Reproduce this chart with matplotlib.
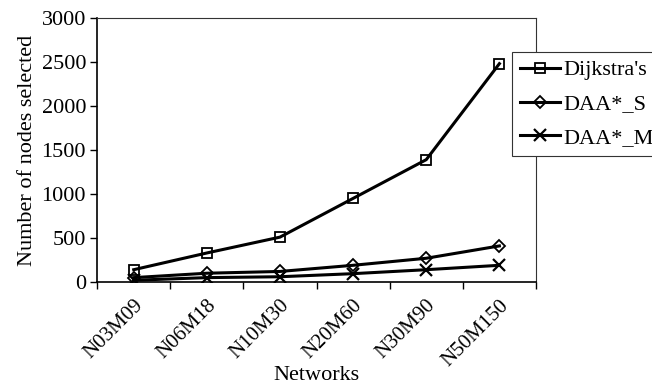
import numpy as np
import matplotlib
matplotlib.use("Agg")
import matplotlib.pyplot as plt
from matplotlib.ticker import FixedLocator, MultipleLocator

# data
networks = ["N03M09", "N06M18", "N10M30", "N20M60", "N30M90", "N50M150"]
dijkstra = [140, 330, 510, 950, 1390, 2480]
daa_s = [50, 100, 120, 190, 270, 410]
daa_m = [20, 50, 60, 95, 140, 190]

plt.rcParams['font.family'] = ['Liberation Serif', 'DejaVu Serif']
plt.rcParams['font.size'] = 16

fig = plt.figure(figsize=(6.52, 3.89), dpi=100)
ax = fig.add_axes([0.149, 0.275, 0.673, 0.679])

x = np.arange(len(networks))
lw = 2.2
ax.plot(x, dijkstra, color='black', lw=lw, marker='s', ms=7, mfc='none', mec='black', mew=1.3, label="Dijkstra's")
ax.plot(x, daa_s, color='black', lw=lw, marker='D', ms=6, mfc='none', mec='black', mew=1.3, label="DAA*_S")
ax.plot(x, daa_m, color='black', lw=lw, marker='x', ms=8, mec='black', mew=1.6, label="DAA*_M")

ax.set_xlim(-0.5, len(networks) - 0.5)
ax.set_ylim(0, 3000)
ax.yaxis.set_major_locator(MultipleLocator(500))

# category labels at centers, tick marks at boundaries (spreadsheet style)
ax.set_xticks(x)
ax.set_xticklabels(networks, rotation=45, ha='right', rotation_mode='anchor', fontsize=15)
ax.xaxis.set_minor_locator(FixedLocator(np.arange(len(networks) + 1) - 0.5))
ax.tick_params(axis='x', which='major', length=0, pad=10)
ax.tick_params(axis='x', which='minor', length=5, direction='out', width=1)
ax.tick_params(axis='y', length=5, direction='out', width=1, pad=3)

for side in ['left', 'bottom']:
    ax.spines[side].set_linewidth(1.2)
for side in ['top', 'right']:
    ax.spines[side].set_linewidth(0.8)
    ax.spines[side].set_color('#333333')

ax.set_ylabel("Number of nodes selected", labelpad=3)
ax.set_xlabel("Networks", labelpad=-3)

leg = fig.legend(loc='upper left', bbox_to_anchor=(0.785, 0.866), frameon=True,
                 fancybox=False, edgecolor='#333333', framealpha=1,
                 handlelength=1.8, handletextpad=0.15, borderpad=0.35,
                 labelspacing=0.6, borderaxespad=0)
leg.get_frame().set_linewidth(0.8)

fig.savefig("out.png", dpi=100)
